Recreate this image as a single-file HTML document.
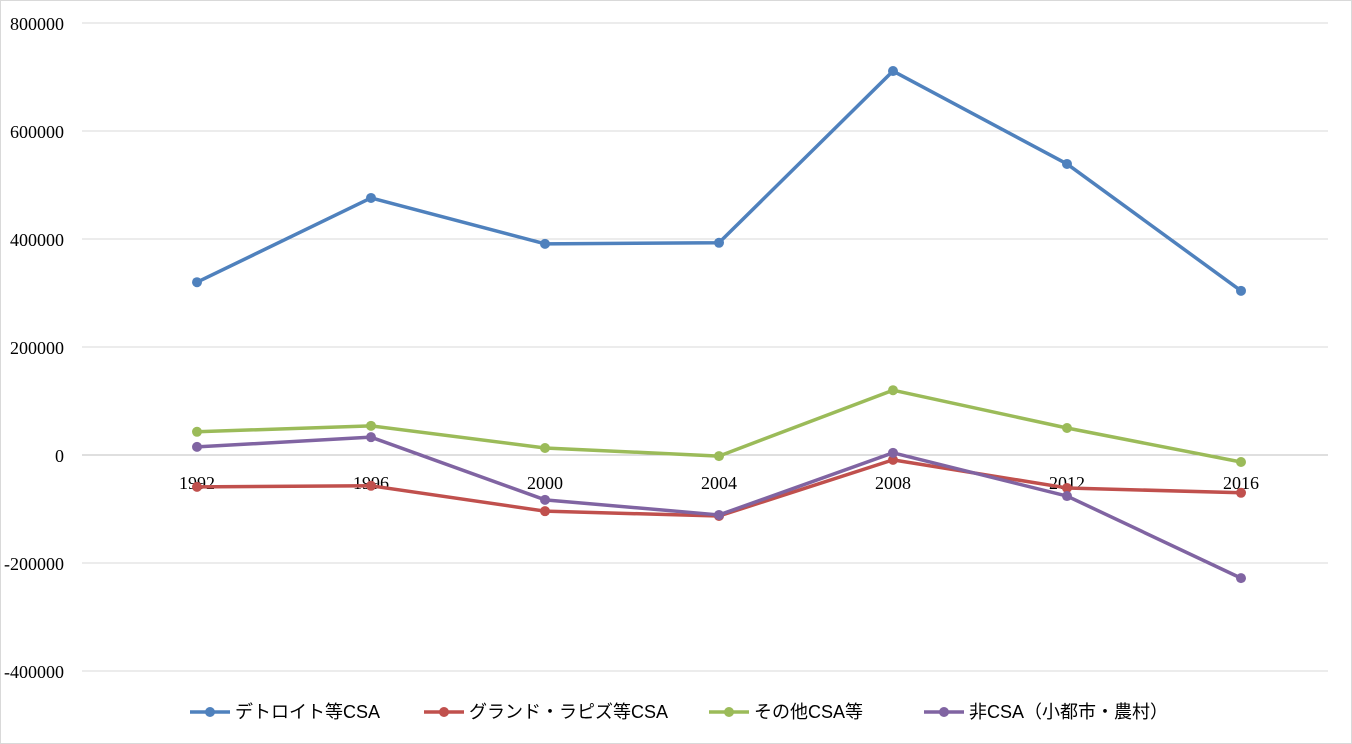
<!DOCTYPE html>
<html><head><meta charset="utf-8">
<style>
html,body{margin:0;padding:0;background:#fff;}
svg{display:block;}
.ax{font-family:"Liberation Serif","Noto Serif CJK SC",serif;font-size:18px;fill:#000;}
.lg{font-family:"Liberation Sans","Noto Sans CJK JP",sans-serif;font-size:18px;fill:#000;}
</style></head>
<body>
<svg id="chart" width="1352" height="744">
<rect x="0.5" y="0.5" width="1351" height="743" fill="#fff" stroke="#d9d9d9"/>
<g id="grid"></g><g id="ylab"></g><g id="xlab"></g><g id="series"></g><g id="legend"></g>
</svg>
<script>
const categories = ["1992","1996","2000","2004","2008","2012","2016"];
const detroit = [320000,476000,391000,393000,711000,539000,304000];
const grandRapids = [-59000,-57000,-104000,-113000,-9000,-61000,-70000];
const otherCSA = [43000,54000,13000,-2000,120000,50000,-13000];
const nonCSA = [15000,33000,-83000,-111000,4000,-76000,-228000];
const yTicks = [800000,600000,400000,200000,0,-200000,-400000];
const seriesNames = ["デトロイト等CSA","グランド・ラピズ等CSA","その他CSA等","非CSA（小都市・農村）"];
const colors = ["#4f81bd","#c0504d","#9bbb59","#8064a2"];
const NS="http://www.w3.org/2000/svg";
const y = v => 455 - v/200000*108;
const x = i => 197 + i*174;
function mk(tag, attrs, parent){const e=document.createElementNS(NS,tag);for(const k in attrs)e.setAttribute(k,attrs[k]);parent.appendChild(e);return e;}
const grid=document.getElementById('grid'), ylab=document.getElementById('ylab'), xlab=document.getElementById('xlab');
yTicks.forEach(t=>{
  const l=mk('line',{x1:82,x2:1328,y1:y(t),y2:y(t),stroke:t===0?'#bfbfbf':'#d9d9d9','stroke-width':1},grid);
  
  
  const tx=mk('text',{x:64,y:y(t)+7,'text-anchor':'end',class:'ax'},ylab);
  tx.textContent=t;
  
  
});
categories.forEach((c,i)=>{
  const tx=mk('text',{x:x(i),y:489,'text-anchor':'middle',class:'ax'},xlab);
  tx.textContent=c;
  
  
});
const sg=document.getElementById('series');
[detroit,grandRapids,otherCSA,nonCSA].forEach((d,s)=>{
  const g=mk('g',{},sg);
  
  
  const p=mk('polyline',{points:d.map((v,i)=>x(i)+','+y(v)).join(' '),fill:'none',stroke:colors[s],'stroke-width':3.5,'stroke-linejoin':'round'},g);
  
  
  d.forEach((v,i)=>{
    const c=mk('circle',{cx:x(i),cy:y(v),r:5,fill:colors[s]},g);
    
    
  });
});
const lg=document.getElementById('legend');
const lx=[190,424,709,924];
seriesNames.forEach((n,s)=>{
  const g=mk('g',{},lg);
  
  
  mk('line',{x1:lx[s],x2:lx[s]+40,y1:712,y2:712,stroke:colors[s],'stroke-width':3.5},g);
  mk('circle',{cx:lx[s]+20,cy:712,r:5,fill:colors[s]},g);
  const t=mk('text',{x:lx[s]+45,y:718,class:'lg'},g);
  t.textContent=n;
});
</script>
</body></html>
